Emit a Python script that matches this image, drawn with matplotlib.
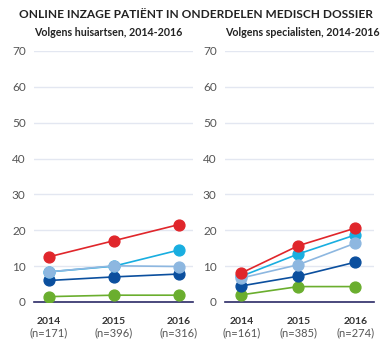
import matplotlib
matplotlib.use("Agg")
import matplotlib.pyplot as plt

years = ["2014", "2015", "2016"]
n_huisarts = ["(n=171)", "(n=396)", "(n=316)"]
n_specialist = ["(n=161)", "(n=385)", "(n=274)"]

# huisartsen
ha_green = [1.5, 1.9, 1.9]
ha_dark = [6.0, 7.0, 7.8]
ha_cyan = [8.4, 10.0, 14.5]
ha_light = [8.4, 10.1, 9.9]
ha_red = [12.6, 17.1, 21.6]

# specialisten
sp_green = [2.0, 4.3, 4.3]
sp_dark = [4.5, 7.2, 11.1]
sp_cyan = [7.2, 13.4, 18.7]
sp_light = [6.7, 10.4, 16.4]
sp_red = [8.1, 15.7, 20.6]

colors = {"green": "#6aae2e", "dark": "#0b4f9e", "cyan": "#19aee0",
          "light": "#8db7e0", "red": "#e0262b"}

plt.rcParams["font.family"] = ["Lato", "DejaVu Sans"]

fig = plt.figure(figsize=(3.84, 3.40), dpi=100)
ax1 = fig.add_axes([34/384, 1 - 302/340, 159/384, 251/340])
ax2 = fig.add_axes([225/384, 1 - 302/340, 149/384, 251/340])

def draw(ax, series, nlabels, xlim):
    for key, vals in series:
        ax.plot(range(3), vals, color=colors[key], lw=1.2, marker="o",
                markersize=7.8, zorder=3)
    ax.set_ylim(0, 70)
    ax.set_xlim(*xlim)
    ax.set_yticks(range(0, 80, 10))
    ax.grid(axis="y", color="#e3e7f1", lw=1)
    ax.set_axisbelow(True)
    for s in ["top", "right", "left"]:
        ax.spines[s].set_visible(False)
    ax.spines["bottom"].set_color("#2b2a66")
    ax.spines["bottom"].set_linewidth(1.2)
    ax.tick_params(axis="y", length=0, pad=6, labelsize=8.5, labelcolor="#555555")
    ax.set_xticks(range(3))
    ax.set_xticklabels([""] * 3)
    ax.tick_params(axis="x", length=0)
    for i in range(3):
        ax.annotate(years[i], (i, 0), xycoords=("data", "axes fraction"),
                    xytext=(0, -16), textcoords="offset points", ha="center",
                    fontsize=7.5, fontweight="bold", color="#333333")
        ax.annotate(nlabels[i], (i, 0), xycoords=("data", "axes fraction"),
                    xytext=(0, -25), textcoords="offset points", ha="center",
                    fontsize=8, color="#555555")

draw(ax1, [("green", ha_green), ("dark", ha_dark), ("cyan", ha_cyan),
           ("light", ha_light), ("red", ha_red)], n_huisarts, (-0.23, 2.215))
draw(ax2, [("green", sp_green), ("dark", sp_dark), ("cyan", sp_cyan),
           ("light", sp_light), ("red", sp_red)], n_specialist, (-0.29, 2.33))

fig.text(196/384, 1 - 15/340, "ONLINE INZAGE PATIËNT IN ONDERDELEN MEDISCH DOSSIER",
         ha="center", va="center", fontsize=8.6, fontweight="bold", color="#222222")
fig.text(108/384, 1 - 32/340, "Volgens huisartsen, 2014-2016", ha="center",
         va="center", fontsize=7.7, fontweight="bold", color="#222222")
fig.text(302/384, 1 - 32/340, "Volgens specialisten, 2014-2016", ha="center",
         va="center", fontsize=7.7, fontweight="bold", color="#222222")

fig.savefig("out.png", dpi=100)
